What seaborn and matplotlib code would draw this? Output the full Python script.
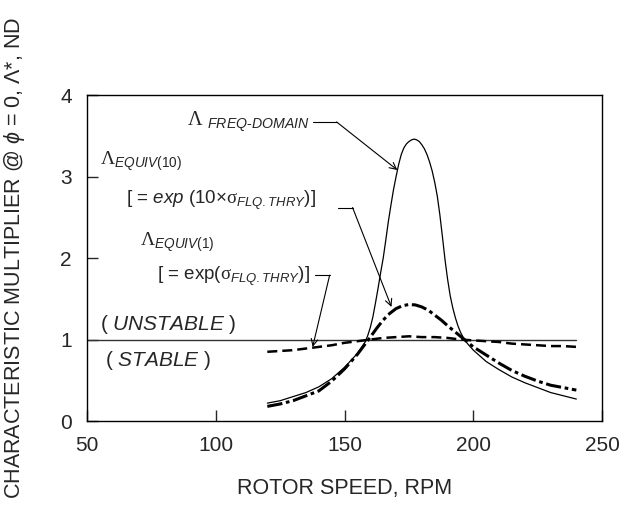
import seaborn as sns
import pandas as pd
import matplotlib.pyplot as plt

# Data
rpm_freq = [120, 125, 130, 135, 140, 145, 150, 155, 158, 159, 160, 161, 162, 163, 164, 165,
            166, 167, 168, 169, 170, 171, 172, 173, 174, 175, 176, 177, 178, 179, 180, 181,
            182, 183, 184, 185, 186, 187, 188, 189, 190, 191, 192, 193, 194, 195, 196, 197,
            198, 200, 205, 210, 215, 220, 225, 230, 235, 240]
lam_freq = [0.22, 0.25, 0.30, 0.35, 0.42, 0.52, 0.66, 0.83, 0.97, 1.05, 1.15, 1.28, 1.45, 1.63,
            1.82, 2.00, 2.22, 2.45, 2.65, 2.84, 3.00, 3.15, 3.27, 3.35, 3.40, 3.43, 3.45, 3.46,
            3.45, 3.43, 3.39, 3.34, 3.27, 3.18, 3.07, 2.93, 2.76, 2.53, 2.26, 1.98, 1.74, 1.54,
            1.39, 1.27, 1.17, 1.09, 1.03, 0.98, 0.94, 0.87, 0.73, 0.63, 0.54, 0.47, 0.41, 0.35,
            0.31, 0.27]

rpm_equiv = [120, 125, 130, 135, 140, 145, 150, 155, 160, 162.5, 165, 167.5, 170, 172.5, 175,
             177.5, 180, 182.5, 185, 187.5, 190, 195, 200, 205, 210, 215, 220, 225, 230, 235, 240]
lam_equiv10 = [0.18, 0.21, 0.25, 0.31, 0.37, 0.49, 0.64, 0.82, 1.03, 1.14, 1.24, 1.32, 1.38,
               1.415, 1.43, 1.425, 1.40, 1.36, 1.30, 1.24, 1.17, 1.04, 0.91, 0.81, 0.71, 0.62,
               0.55, 0.49, 0.44, 0.41, 0.38]
lam_equiv1 = [0.85, 0.86, 0.87, 0.89, 0.91, 0.93, 0.96, 0.98, 1.00, 1.01, 1.02, 1.025, 1.03,
              1.035, 1.04, 1.035, 1.03, 1.03, 1.03, 1.025, 1.02, 1.00, 0.99, 0.98, 0.97, 0.95,
              0.94, 0.93, 0.92, 0.92, 0.91]

stability_rpm = [50, 240]
stability_level = [1, 1]

if __name__ == "__main__":
    sns.set_style("white")
    plt.rcParams["font.family"] = ["Liberation Sans", "DejaVu Sans"]
    # serif Lambda / sigma through the "bf" slot, everything else sans
    plt.rcParams["mathtext.fontset"] = "custom"
    plt.rcParams["mathtext.rm"] = "Liberation Sans"
    plt.rcParams["mathtext.it"] = "Liberation Sans:italic"
    plt.rcParams["mathtext.sf"] = "Liberation Sans"
    plt.rcParams["mathtext.bf"] = "Liberation Serif"

    freqDF = pd.DataFrame({"rpm": rpm_freq, "lam": lam_freq})
    equivDF = pd.DataFrame({"rpm": rpm_equiv, "eq10": lam_equiv10, "eq1": lam_equiv1})

    fig = plt.figure(figsize=(6.22, 5.11), dpi=100)
    ax = fig.add_axes([0.140, 0.176, 0.828, 0.638])

    sns.lineplot(x=stability_rpm, y=stability_level, color="#333333", lw=1.0, ax=ax)
    sns.lineplot(data=freqDF, x="rpm", y="lam", color="black", lw=0.9, ax=ax)
    sns.lineplot(data=equivDF, x="rpm", y="eq10", color="black", lw=2.2, ax=ax)
    ax.lines[-1].set_dashes([5, 1.2, 1.2, 1.2])
    sns.lineplot(data=equivDF, x="rpm", y="eq1", color="black", lw=1.8, ax=ax)
    ax.lines[-1].set_dashes([4, 2])

    ax.set_xlim(50, 250)
    ax.set_ylim(0, 4)
    ax.set_xticks([50, 100, 150, 200, 250])
    ax.set_yticks([0, 1, 2, 3, 4])
    ax.tick_params(direction="in", length=8, width=1, labelsize=15, bottom=True, left=True,
                   top=False, right=False, pad=11)
    for s in ax.spines.values():
        s.set_color("black")
        s.set_linewidth(1.0)

    ax.set_xlabel("ROTOR SPEED, RPM", fontsize=15.5, labelpad=16)
    ax.set_ylabel(r"CHARACTERISTIC MULTIPLIER @ $\mathit{\phi}$ = 0, $\mathrm{\Lambda}$*, ND",
                  fontsize=15.5, labelpad=24)

    # Annotations
    ax.text(88.8, 3.67, r"$\mathbf{\Lambda}$ $_{\mathit{FREQ\text{-}DOMAIN}}$", fontsize=14.5, va="center")
    ax.text(55, 3.18, r"$\mathbf{\Lambda}_{\mathit{EQUIV(10)}}$", fontsize=14, va="center")
    ax.text(65, 2.71, r"[ = $\mathit{exp}$ (10$\times\mathbf{\sigma}_{\mathit{FLQ.THRY}}$)]",
            fontsize=13.5, va="center")
    ax.text(70.5, 2.19, r"$\mathbf{\Lambda}_{\mathit{EQUIV(1)}}$", fontsize=14, va="center")
    ax.text(77, 1.77, r"[ = exp($\mathbf{\sigma}_{\mathit{FLQ.THRY}}$)]", fontsize=13.5, va="center")
    ax.text(55, 1.18, r"( $\mathit{UNSTABLE}$ )", fontsize=15, va="center")
    ax.text(57, 0.74, r"( $\mathit{STABLE}$ )", fontsize=15, va="center")

    leaders = [((137.6, 146.9), 3.67, (170.5, 3.08)),
               ((147.3, 153.1), 2.62, (168.2, 1.40)),
               ((138.4, 144.2), 1.79, (137.6, 0.91))]
    for (x0, x1), yl, tip in leaders:
        ax.plot([x0, x1], [yl, yl], color="black", lw=0.8)
        ax.annotate("", xy=tip, xytext=(x1, yl),
                    arrowprops=dict(arrowstyle="->", color="black", lw=0.8,
                                    shrinkA=0, shrinkB=0, mutation_scale=12))

    plt.savefig("out.png", dpi=100)
